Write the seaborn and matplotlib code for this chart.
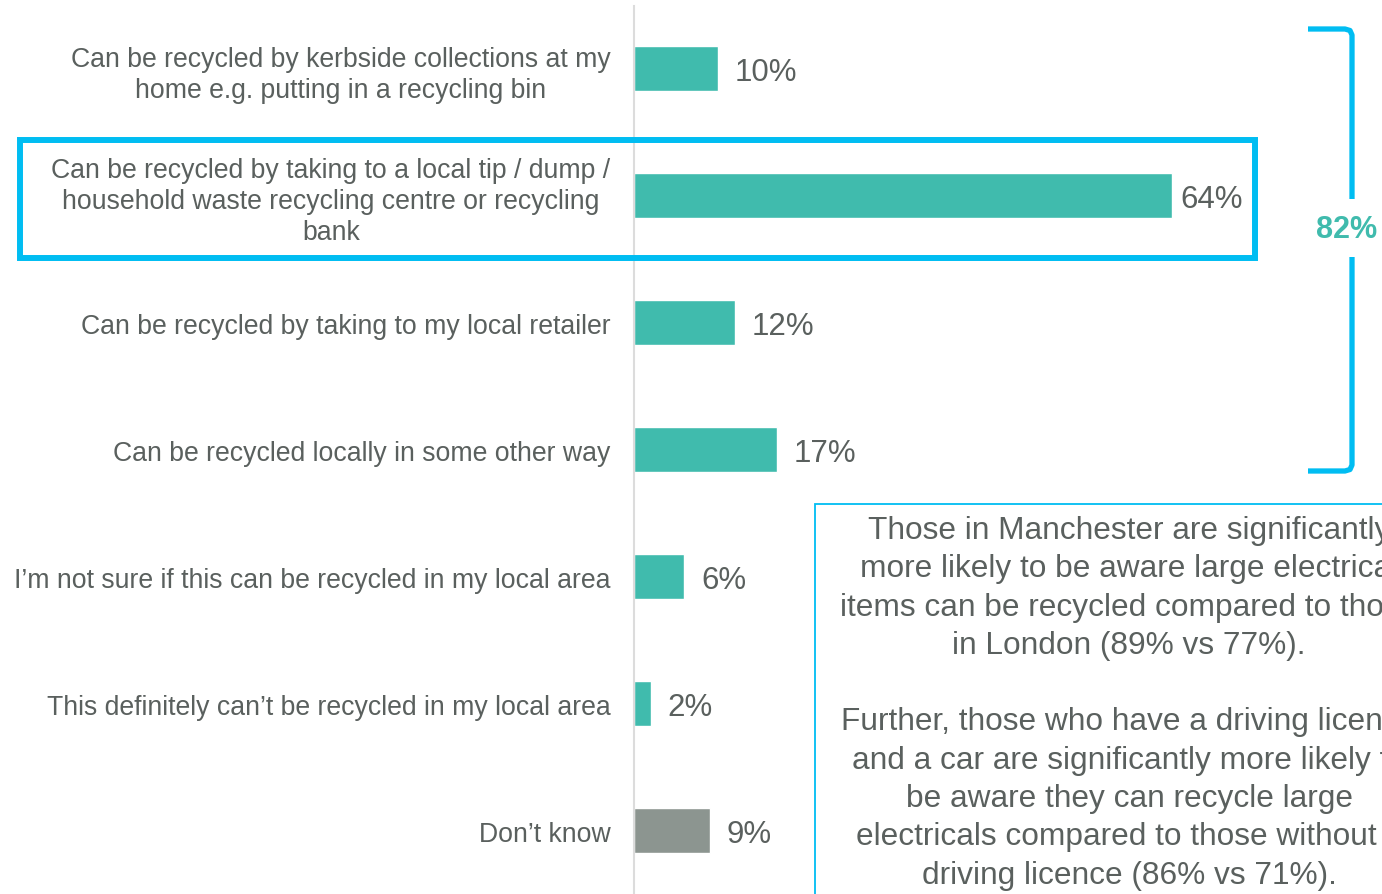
import matplotlib
matplotlib.use("Agg")
import matplotlib.pyplot as plt
import matplotlib.patches as mpatches
from matplotlib.lines import Line2D
import seaborn as sns
import pandas as pd

categories = [
    "Can be recycled by kerbside collections at my\nhome e.g. putting in a recycling bin",
    "Can be recycled by taking to a local tip / dump /\nhousehold waste recycling centre or recycling\nbank",
    "Can be recycled by taking to my local retailer",
    "Can be recycled locally in some other way",
    "I\u2019m not sure if this can be recycled in my local area",
    "This definitely can\u2019t be recycled in my local area",
    "Don\u2019t know",
]
values = [10, 64, 12, 17, 6, 2, 9]
value_labels = ["10%", "64%", "12%", "17%", "6%", "2%", "9%"]
total_label = "82%"
note_lines = [
    "Those in Manchester are significantly",
    "more likely to be aware large electrical",
    "items can be recycled compared to those",
    "in London (89% vs 77%).",
    "",
    "Further, those who have a driving licence",
    "and a car are significantly more likely to",
    "be aware they can recycle large",
    "electricals compared to those without a",
    "driving licence (86% vs 71%).",
]

TEAL = "#40bbad"
GREY = "#8c9590"
TEXT = "#5a605e"
BLUE = "#00bdf2"

sns.set_style("white")
plt.rcParams["font.family"] = ["Liberation Sans", "DejaVu Sans"]

W, H = 1382, 895
fig = plt.figure(figsize=(W / 100, H / 100), dpi=100)

def fx(px):
    return px / W

def fy(py):
    return 1 - py / H

ax_left = 634
ppu = 8.4  # pixels per percent
ax = fig.add_axes([fx(ax_left), 0, (W - ax_left) / W, (H - 6.5) / H])

df = pd.DataFrame({"cat": categories, "val": values})
palette = {c: (GREY if c.startswith("Don") else TEAL) for c in categories}
sns.barplot(data=df, x="val", y="cat", hue="cat", palette=palette, width=0.355,
            orient="h", legend=False, ax=ax, saturation=1)

ax.set_xlim(0, (W - ax_left) / ppu)
ax.set_ylim(6.5, -0.5)
ax.set_xlabel("")
ax.set_ylabel("")
ax.set_xticks([])
for s in ["top", "right", "bottom"]:
    ax.spines[s].set_visible(False)
ax.spines["left"].set_color("#dcdcdc")
ax.spines["left"].set_linewidth(1.5)
ax.tick_params(axis="y", length=0, pad=17)
for lab in ax.get_yticklabels():
    lab.set_fontsize(19.2)
    lab.set_color(TEXT)
    lab.set_multialignment("center")
    lab.set_linespacing(1.25)

for i, (v, t) in enumerate(zip(values, value_labels)):
    dx = 6 if v > 50 else 12
    ax.annotate(t, xy=(v, i), xytext=(dx, -2.5), textcoords="offset points",
                va="center", ha="left", fontsize=22.5, color=TEXT)

# highlight box around second category
fig.add_artist(mpatches.Rectangle((fx(20), fy(259)), (1255 - 20) / W, (259 - 141) / H,
                                  transform=fig.transFigure, fill=False,
                                  edgecolor=BLUE, linewidth=4.3))

# bracket
lw = 3.8
top = [(1308, 30), (1345, 30), (1350, 31.5), (1352, 36), (1352, 200)]
bot = [(1352, 258), (1352, 466), (1350, 470.5), (1345, 472), (1308, 472)]
for seg in (top, bot):
    fig.add_artist(Line2D([fx(p[0]) for p in seg], [fy(p[1]) for p in seg],
                          transform=fig.transFigure, color=BLUE, linewidth=lw,
                          solid_joinstyle="round", solid_capstyle="butt"))
fig.text(fx(1347), fy(230), total_label, ha="center", va="center",
         fontsize=22, fontweight="bold", color=TEAL)

# note box
fig.add_artist(mpatches.Rectangle((fx(815), fy(920)), (1500 - 815) / W, (920 - 505) / H,
                                  transform=fig.transFigure, fill=False,
                                  edgecolor=BLUE, linewidth=1.3))
fig.text(fx(1129), fy(516), "\n".join(note_lines), ha="center", va="top",
         fontsize=22.8, color=TEXT, linespacing=1.36)

fig.savefig("out.png", dpi=100)
